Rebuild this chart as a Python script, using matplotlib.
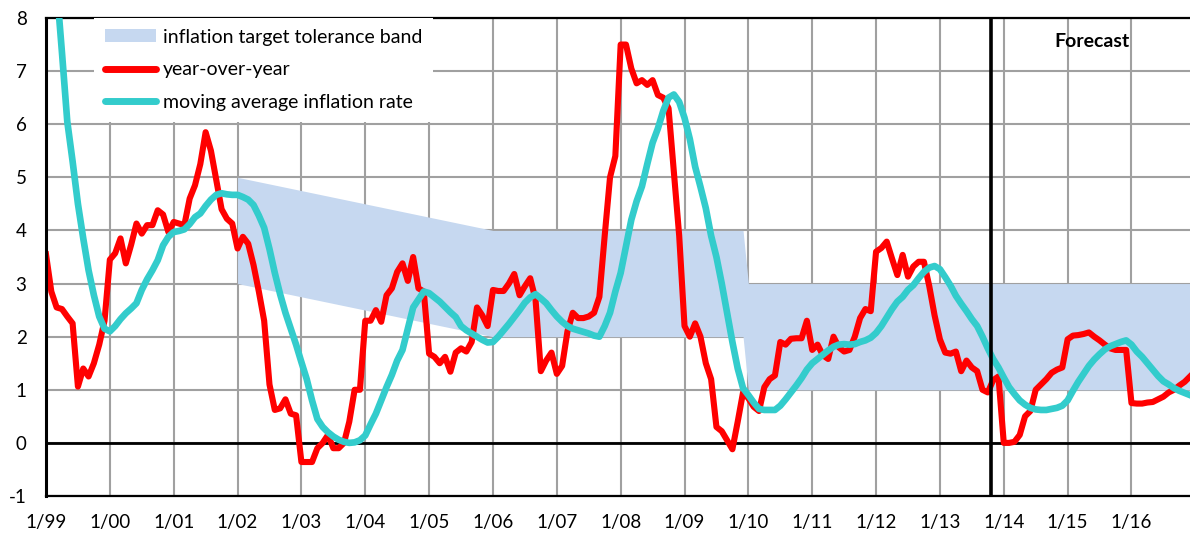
import numpy as np
import matplotlib
matplotlib.use("Agg")
import matplotlib.pyplot as plt
from matplotlib.lines import Line2D
from matplotlib.patches import Patch

plt.rcParams['font.family'] = ['Lato', 'DejaVu Sans']
plt.rcParams['axes.unicode_minus'] = False

# ---------------- data ----------------
tick_labels = ['1/99', '1/00', '1/01', '1/02', '1/03', '1/04', '1/05', '1/06', '1/07',
               '1/08', '1/09', '1/10', '1/11', '1/12', '1/13', '1/14', '1/15', '1/16']

# monthly year-over-year inflation, Jan 1999 .. Dec 2016
yoy = [
    3.55, 2.85, 2.55, 2.52, 2.38, 2.25, 1.06, 1.40, 1.25, 1.50, 1.85, 2.30,   # 1999
    3.45, 3.57, 3.85, 3.38, 3.73, 4.13, 3.94, 4.10, 4.10, 4.38, 4.30, 3.97,   # 2000
    4.16, 4.13, 4.10, 4.60, 4.85, 5.25, 5.85, 5.50, 4.95, 4.40, 4.22, 4.13,   # 2001
    3.66, 3.88, 3.75, 3.35, 2.85, 2.30, 1.10, 0.62, 0.65, 0.82, 0.55, 0.52,   # 2002
    -0.36, -0.36, -0.36, -0.10, 0.00, 0.15, -0.10, -0.10, 0.00, 0.40, 1.00, 1.00,  # 2003
    2.30, 2.30, 2.50, 2.28, 2.78, 2.91, 3.22, 3.38, 3.05, 3.50, 2.91, 2.85,   # 2004
    1.68, 1.62, 1.50, 1.62, 1.34, 1.70, 1.78, 1.72, 1.90, 2.55, 2.40, 2.20,   # 2005
    2.88, 2.86, 2.86, 3.00, 3.18, 2.78, 2.95, 3.10, 2.70, 1.35, 1.55, 1.70,   # 2006
    1.30, 1.45, 2.10, 2.45, 2.35, 2.35, 2.38, 2.45, 2.75, 3.90, 5.00, 5.40,   # 2007
    7.50, 7.50, 7.05, 6.77, 6.83, 6.74, 6.83, 6.55, 6.50, 6.30, 5.10, 3.90,   # 2008
    2.20, 2.00, 2.25, 2.00, 1.50, 1.20, 0.30, 0.22, 0.05, -0.12, 0.40, 0.95,  # 2009
    0.84, 0.68, 0.60, 1.05, 1.20, 1.27, 1.90, 1.85, 1.96, 1.97, 1.97, 2.30,   # 2010
    1.75, 1.85, 1.65, 1.58, 2.00, 1.80, 1.72, 1.75, 2.00, 2.35, 2.52, 2.48,   # 2011
    3.60, 3.67, 3.79, 3.47, 3.16, 3.54, 3.13, 3.32, 3.41, 3.41, 2.95, 2.40,   # 2012
    1.95, 1.70, 1.68, 1.72, 1.35, 1.55, 1.42, 1.35, 1.00, 0.95, 1.18, 1.25,   # 2013
    0.00, 0.00, 0.02, 0.15, 0.50, 0.60, 1.00, 1.10, 1.20, 1.32, 1.38, 1.42,   # 2014
    1.95, 2.02, 2.03, 2.05, 2.08, 2.00, 1.93, 1.85, 1.78, 1.75, 1.75, 1.75,   # 2015
    0.75, 0.74, 0.74, 0.76, 0.77, 0.82, 0.87, 0.95, 1.00, 1.08, 1.15, 1.25,   # 2016
]

# moving average inflation rate
moving_avg = [
    11.2, 9.9, 8.6, 7.35, 6.05, 5.30, 4.50, 3.85, 3.25, 2.78, 2.38, 2.15,     # 1999
    2.10, 2.20, 2.33, 2.44, 2.53, 2.63, 2.88, 3.08, 3.25, 3.44, 3.72, 3.88,   # 2000
    3.97, 3.99, 4.02, 4.12, 4.25, 4.32, 4.46, 4.58, 4.67, 4.70, 4.68, 4.67,   # 2001
    4.67, 4.63, 4.58, 4.48, 4.28, 4.05, 3.65, 3.20, 2.80, 2.45, 2.15, 1.85,   # 2002
    1.52, 1.20, 0.80, 0.45, 0.30, 0.20, 0.12, 0.06, 0.02, 0.00, 0.01, 0.05,   # 2003
    0.14, 0.35, 0.55, 0.80, 1.05, 1.28, 1.55, 1.75, 2.15, 2.55, 2.70, 2.85,   # 2004
    2.82, 2.74, 2.66, 2.56, 2.46, 2.37, 2.20, 2.12, 2.06, 2.00, 1.94, 1.89,   # 2005
    1.90, 2.00, 2.12, 2.24, 2.37, 2.50, 2.64, 2.74, 2.80, 2.72, 2.63, 2.50,   # 2006
    2.38, 2.28, 2.20, 2.15, 2.12, 2.09, 2.06, 2.02, 2.00, 2.20, 2.45, 2.85,   # 2007
    3.20, 3.70, 4.20, 4.55, 4.83, 5.25, 5.65, 5.92, 6.25, 6.50, 6.56, 6.42,   # 2008
    6.12, 5.72, 5.20, 4.82, 4.42, 3.90, 3.50, 3.00, 2.45, 1.90, 1.40, 1.03,   # 2009
    0.90, 0.76, 0.64, 0.62, 0.62, 0.62, 0.70, 0.82, 0.95, 1.08, 1.22, 1.38,   # 2010
    1.50, 1.58, 1.66, 1.74, 1.81, 1.85, 1.86, 1.85, 1.86, 1.90, 1.93, 1.98,   # 2011
    2.07, 2.20, 2.36, 2.52, 2.66, 2.75, 2.88, 2.97, 3.10, 3.22, 3.30, 3.33,   # 2012
    3.27, 3.12, 2.96, 2.77, 2.62, 2.48, 2.33, 2.20, 2.00, 1.78, 1.58, 1.42,   # 2013
    1.23, 1.05, 0.92, 0.80, 0.72, 0.66, 0.63, 0.62, 0.62, 0.64, 0.66, 0.70,   # 2014
    0.80, 0.98, 1.15, 1.30, 1.45, 1.57, 1.67, 1.76, 1.82, 1.86, 1.90, 1.93,   # 2015
    1.85, 1.72, 1.62, 1.50, 1.38, 1.26, 1.16, 1.10, 1.03, 0.98, 0.94, 0.90,   # 2016
]

# inflation target tolerance band (month index of knots, lower / upper bound)
band_months = [36, 84, 131, 132, 215]
band_lower = [3, 2, 2, 1, 1]
band_upper = [5, 4, 4, 3, 3]

forecast_start = 177.6   # month index where forecast begins
forecast_label = 'Forecast'

labels = ['inflation target tolerance band', 'year-over-year', 'moving average inflation rate']

# ---------------- style ----------------
RED = '#FF0000'
CYAN = '#33CCCC'
BAND = '#C6D8F0'
GRID = '#A0A0A0'
FS_TICK = 13.5
FS_LEG = 14

months = np.arange(len(yoy))

fig = plt.figure(figsize=(11.9, 5.34), dpi=100)
W, H = 1190, 534
ax = fig.add_axes([46 / W, (H - 496) / H, (1190 - 46) / W, (496 - 18) / H])

ax.fill_between(band_months, band_lower, band_upper, color=BAND, lw=0, zorder=1)
ax.axhline(0, color='black', lw=2.0, zorder=1.5)
ax.plot(months, yoy, color=RED, lw=4.4, solid_joinstyle='round', zorder=2)
ax.plot(months, moving_avg, color=CYAN, lw=4.8, solid_joinstyle='round', zorder=3)
ax.axvline(forecast_start, color='black', lw=2.6, zorder=4)

ax.set_xlim(0, len(yoy) - 1)
ax.set_ylim(-1, 8)
ax.set_xticks(np.arange(0, len(yoy), 12))
ax.set_xticklabels(tick_labels)
ax.set_yticks(np.arange(-1, 9, 1))
ax.tick_params(axis='both', length=0, labelsize=FS_TICK, colors='black')
ax.tick_params(axis='y', pad=14)
ax.tick_params(axis='x', pad=13)

ax.set_axisbelow(True)
ax.grid(True, color=GRID, lw=1.5)

ax.spines['right'].set_visible(False)
ax.spines['top'].set_linewidth(1.6)
ax.spines['bottom'].set_linewidth(1.6)
ax.spines['left'].set_linewidth(2.2)
for s in ['top', 'bottom', 'left']:
    ax.spines[s].set_color('black')

ax.text(0.914, 0.95, forecast_label, transform=ax.transAxes, ha='center', va='center',
        fontsize=FS_LEG, fontweight='bold')

handles = [Patch(facecolor=BAND, edgecolor='none'),
           Line2D([], [], color=RED, lw=5, solid_capstyle='round'),
           Line2D([], [], color=CYAN, lw=5, solid_capstyle='round')]
leg = ax.legend(handles, labels, loc='upper left', bbox_to_anchor=(0.042, 1.0),
                frameon=True, fancybox=False, framealpha=1, facecolor='white',
                edgecolor='none', fontsize=FS_LEG, handlelength=2.62, handleheight=0.67,
                handletextpad=0.36, labelspacing=0.8, borderpad=0.55, borderaxespad=0)
leg.set_zorder(6)

fig.savefig('out.png', dpi=100)
